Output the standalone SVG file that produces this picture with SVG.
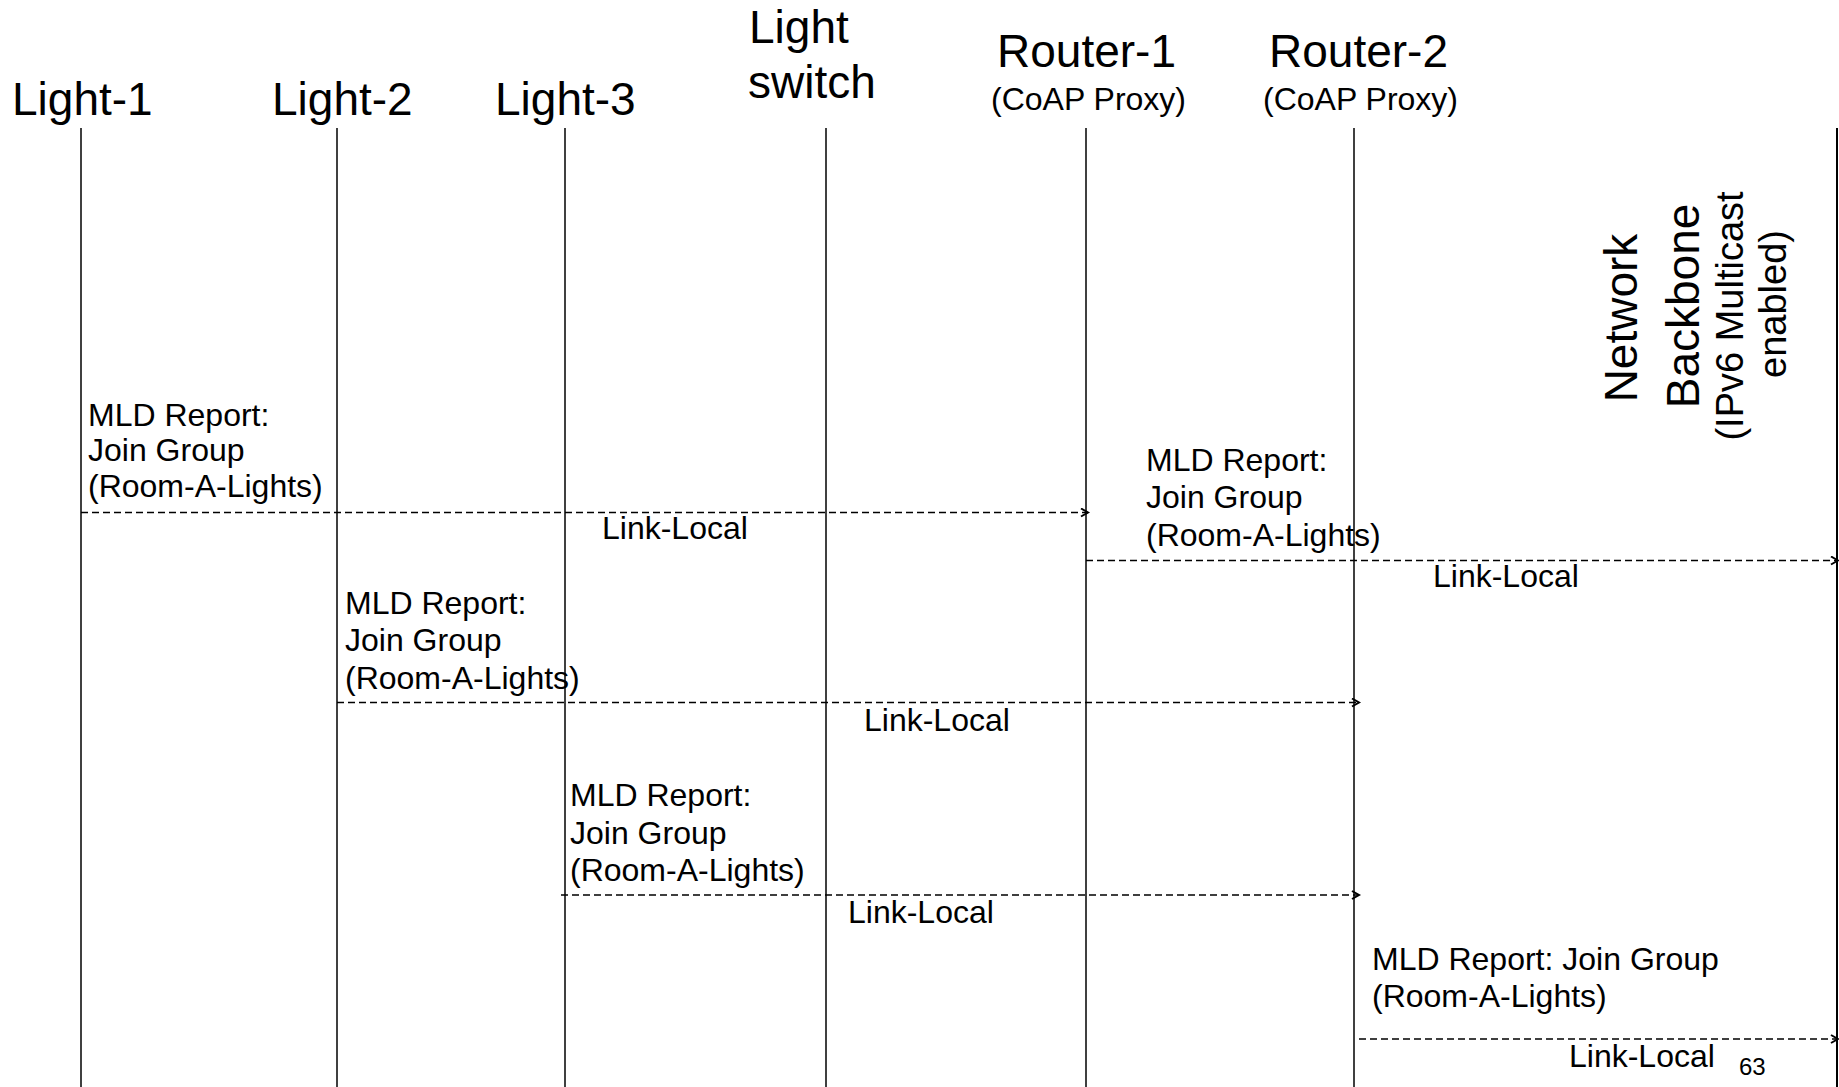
<svg xmlns="http://www.w3.org/2000/svg" width="1839" height="1087" viewBox="0 0 1839 1087">
<style>
.h{font-family:"Liberation Sans",Arial,sans-serif;font-size:46px;fill:#000}
.s{font-family:"Liberation Sans",Arial,sans-serif;font-size:32px;fill:#000}
.v{font-family:"Liberation Sans",Arial,sans-serif;font-size:38px;fill:#000}
.t{font-family:"Liberation Sans",Arial,sans-serif;font-size:32px;fill:#000}
.n{font-family:"Liberation Sans",Arial,sans-serif;font-size:24px;fill:#000}
.life{stroke:#000;stroke-width:1.5;fill:none}
.msg{stroke:#000;stroke-width:1.5;stroke-dasharray:7 4;fill:none}
</style>
<defs>
<marker id="ah" markerWidth="12" markerHeight="12" refX="9" refY="5" orient="auto" markerUnits="userSpaceOnUse">
<path d="M2,1 L9,5 L2,9" fill="none" stroke="#000" stroke-width="2"/>
</marker>
</defs>
<rect width="1839" height="1087" fill="#fff"/>
<g id="light1">
<text class="h" x="12" y="115">Light-1</text>
<line class="life" x1="81" y1="128" x2="81" y2="1087"/>
</g>
<g id="light2">
<text class="h" x="272" y="115">Light-2</text>
<line class="life" x1="337" y1="128" x2="337" y2="1087"/>
</g>
<g id="light3">
<text class="h" x="495" y="115">Light-3</text>
<line class="life" x1="565" y1="128" x2="565" y2="1087"/>
</g>
<g id="lightswitch">
<text class="h" x="749" y="43">Light</text>
<text class="h" x="748" y="98">switch</text>
<line class="life" x1="826" y1="128" x2="826" y2="1087"/>
</g>
<g id="router1">
<text class="h" x="997" y="67">Router-1</text>
<text class="s" x="991" y="110">(CoAP Proxy)</text>
<line class="life" x1="1086" y1="128" x2="1086" y2="1087"/>
</g>
<g id="router2">
<text class="h" x="1269" y="67">Router-2</text>
<text class="s" x="1263" y="110">(CoAP Proxy)</text>
<line class="life" x1="1354" y1="128" x2="1354" y2="1087"/>
</g>
<g id="backbone">
<text class="h" text-anchor="middle" transform="translate(1637,318) rotate(-90)">Network</text>
<text class="h" text-anchor="middle" transform="translate(1699,306) rotate(-90)">Backbone</text>
<text class="v" text-anchor="middle" transform="translate(1743,316) rotate(-90)">(IPv6 Multicast</text>
<text class="v" text-anchor="middle" transform="translate(1786,304) rotate(-90)">enabled)</text>
<line x1="1837" y1="128" x2="1837" y2="1087" stroke="#000" stroke-width="2"/>
</g>
<g id="connectors">
<line class="msg" x1="81" y1="512.5" x2="1088" y2="512.5" marker-end="url(#ah)"/>
<line class="msg" x1="1086" y1="560.5" x2="1838" y2="560.5" marker-end="url(#ah)"/>
<line class="msg" x1="337" y1="702.5" x2="1359" y2="702.5" marker-end="url(#ah)"/>
<line class="msg" x1="561" y1="895" x2="1359" y2="895" marker-end="url(#ah)"/>
<line class="msg" x1="1359" y1="1039" x2="1838" y2="1039" marker-end="url(#ah)"/>
</g>
<g id="labels">
<text class="t" x="88" y="426">MLD Report:</text>
<text class="t" x="88" y="461">Join Group</text>
<text class="t" x="88" y="497">(Room-A-Lights)</text>
<text class="t" x="602" y="539">Link-Local</text>
<text class="t" x="1146" y="471">MLD Report:</text>
<text class="t" x="1146" y="508">Join Group</text>
<text class="t" x="1146" y="546">(Room-A-Lights)</text>
<text class="t" x="1433" y="587">Link-Local</text>
<text class="t" x="345" y="614">MLD Report:</text>
<text class="t" x="345" y="651">Join Group</text>
<text class="t" x="345" y="689">(Room-A-Lights)</text>
<text class="t" x="864" y="731">Link-Local</text>
<text class="t" x="570" y="806">MLD Report:</text>
<text class="t" x="570" y="844">Join Group</text>
<text class="t" x="570" y="881">(Room-A-Lights)</text>
<text class="t" x="848" y="923">Link-Local</text>
<text class="t" x="1372" y="970">MLD Report: Join Group</text>
<text class="t" x="1372" y="1007">(Room-A-Lights)</text>
<text class="t" x="1569" y="1067">Link-Local</text>
<text class="n" x="1739" y="1075">63</text>
</g>
</svg>
